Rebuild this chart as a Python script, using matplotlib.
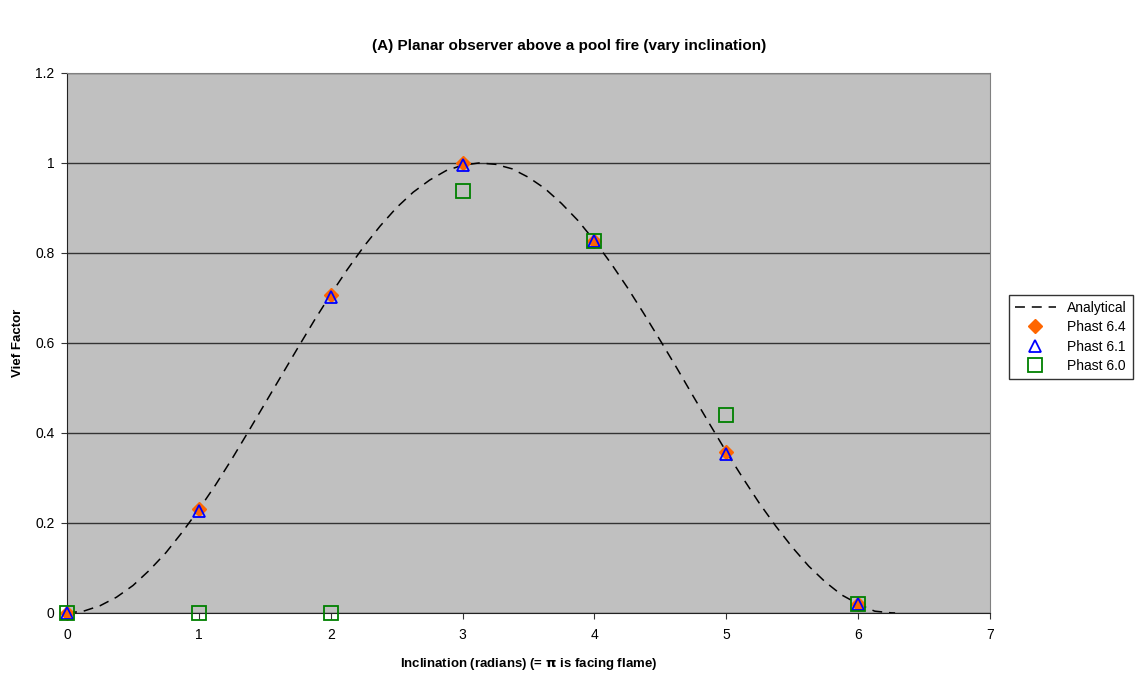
import matplotlib.pyplot as plt

plt.rcParams['font.family'] = ['Liberation Sans', 'DejaVu Sans']

# Analytical curve
x_ana = [0, 0.125, 0.25, 0.375, 0.5, 0.625, 0.75, 0.875, 1.0, 1.125, 1.25,
         1.375, 1.5, 1.625, 1.75, 1.875, 2.0, 2.125, 2.25, 2.375, 2.5, 2.625,
         2.75, 2.875, 3.0, 3.125, 3.25, 3.375, 3.5, 3.625, 3.75, 3.875, 4.0,
         4.125, 4.25, 4.375, 4.5, 4.625, 4.75, 4.875, 5.0, 5.125, 5.25, 5.375,
         5.5, 5.625, 5.75, 5.875, 6.0, 6.125, 6.25, 6.28]
y_ana = [0, 0.004, 0.016, 0.035, 0.061, 0.095, 0.134, 0.180, 0.230, 0.284,
         0.342, 0.403, 0.465, 0.527, 0.589, 0.650, 0.708, 0.763, 0.814, 0.860,
         0.901, 0.935, 0.962, 0.983, 0.995, 1.000, 0.997, 0.987, 0.968, 0.943,
         0.910, 0.872, 0.827, 0.777, 0.723, 0.665, 0.605, 0.544, 0.481, 0.419,
         0.358, 0.300, 0.244, 0.193, 0.146, 0.104, 0.069, 0.040, 0.020, 0.004,
         0.0003, 0]

# Model results
x_pts = [0, 1, 2, 3, 4, 5, 6]
phast64 = [0, 0.23, 0.707, 1.0, 0.826, 0.357, 0.02]
phast61 = [0, 0.227, 0.703, 0.995, 0.826, 0.354, 0.02]
phast60 = [0, 0, 0, 0.938, 0.826, 0.44, 0.02]

fig = plt.figure(figsize=(11.38, 6.75), dpi=100)
ax = fig.add_axes([0.0589, 0.0919, 0.8111, 0.8])
ax.set_facecolor('#C0C0C0')

ax.plot(x_ana, y_ana, color='black', linestyle=(0, (6.5, 4.5)), linewidth=1.1,
        label='Analytical', zorder=3)
ax.plot(x_pts, phast64, linestyle='none', marker='D', markersize=7.5,
        color='#FF6600', label='Phast 6.4', zorder=4, clip_on=False)
ax.plot(x_pts, phast61, linestyle='none', marker='^', markersize=9,
        markerfacecolor='none', markeredgecolor='#0000FF', markeredgewidth=1.3,
        label='Phast 6.1', zorder=5, clip_on=False)
ax.plot(x_pts, phast60, linestyle='none', marker='s', markersize=9.5,
        markerfacecolor='none', markeredgecolor='#008000', markeredgewidth=1.3,
        label='Phast 6.0', zorder=6, clip_on=False)

ax.set_xlim(0, 7)
ax.set_ylim(0, 1.2)
ax.set_xticks(range(8))
ax.set_yticks([0, 0.2, 0.4, 0.6, 0.8, 1.0, 1.2])
ax.set_yticklabels(['0', '0.2', '0.4', '0.6', '0.8', '1', '1.2'])
ax.yaxis.grid(True, color='#333333', linewidth=1)
ax.set_axisbelow(True)
ax.tick_params(labelsize=10, length=4, color='#333333', pad=5)
ax.tick_params(axis='x', pad=7)

for side in ['top', 'right']:
    ax.spines[side].set_color('#808080')
for side in ['left', 'bottom']:
    ax.spines[side].set_color('#222222')

ax.set_xlabel('Inclination (radians) (= $\\mathbf{\\pi}$ is facing flame)',
              fontsize=9.5, fontweight='bold', labelpad=10)
ax.set_ylabel('Vief Factor', fontsize=9.5, fontweight='bold', labelpad=8)
fig.suptitle('(A) Planar observer above a pool fire (vary inclination)',
             fontsize=11, fontweight='bold', x=0.5, y=0.942)

leg = fig.legend(loc='upper left', bbox_to_anchor=(0.8866, 0.563),
                 fontsize=10, frameon=True, fancybox=False, handlelength=3,
                 borderpad=0.4, labelspacing=0.4, borderaxespad=0)
leg.get_frame().set_edgecolor('black')
leg.get_frame().set_linewidth(1)

fig.savefig('out.png', dpi=100)
